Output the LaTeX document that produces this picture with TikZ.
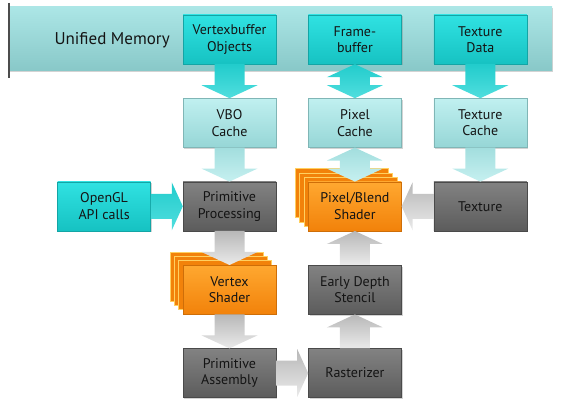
\documentclass[tikz,border=0pt]{standalone}
\usepackage{fontspec}
\setmainfont{PT Sans}
\usepackage{xcolor}
\usepackage{tikz}
\usetikzlibrary{calc,positioning,shadows}

\definecolor{memtop}{RGB}{172,230,230}
\definecolor{membot}{RGB}{136,200,200}
\definecolor{cyantop}{RGB}{48,226,226}
\definecolor{cyanbot}{RGB}{22,194,194}
\definecolor{cachetop}{RGB}{192,240,240}
\definecolor{cachebot}{RGB}{150,214,214}
\definecolor{graytop}{RGB}{130,130,130}
\definecolor{graybot}{RGB}{92,92,92}
\definecolor{orgtop}{RGB}{255,168,48}
\definecolor{orgbot}{RGB}{242,130,10}
\definecolor{orgedge}{RGB}{255,208,96}
\definecolor{txt}{RGB}{20,20,20}

\begin{document}
\begin{tikzpicture}[x=1pt, y=1pt,
    node distance=34pt and 32pt,
    every node/.style={font=\fontsize{14}{16.5}\selectfont, text=txt},
    box/.style={rectangle, minimum width=93pt, minimum height=49pt,
                align=center, inner sep=1pt, line width=0.4pt},
    shd/.style={drop shadow={shadow xshift=1.2pt, shadow yshift=-1.5pt, opacity=0.35}},
    membox/.style={rectangle, shd, minimum width=543pt, minimum height=64pt,
                   top color=memtop, bottom color=membot},
    cyanbox/.style={box, shd, top color=cyantop, bottom color=cyanbot, draw=cyanbot!85!black},
    cachebox/.style={box, shd, top color=cachetop, bottom color=cachebot, draw=cachebot!85!black},
    graybox/.style={box, shd, top color=graytop, bottom color=graybot, draw=graybot!80!black},
    shaderbox/.style={box, top color=orgtop, bottom color=orgbot, draw=orgbot!85!black,
        general shadow={shadow xshift=-12.9pt, shadow yshift=12.9pt, fill=orgbot, draw=orgedge, line width=0.8pt},
        general shadow={shadow xshift=-8.6pt, shadow yshift=8.6pt, fill=orgbot, draw=orgedge, line width=0.8pt},
        general shadow={shadow xshift=-4.3pt, shadow yshift=4.3pt, fill=orgbot, draw=orgedge, line width=0.8pt}},
    cyanarr/.style={top color={rgb,255:red,34;green,204;blue,204}, bottom color={rgb,255:red,80;green,222;blue,222}},
    lightarr/.style={top color={rgb,255:red,162;green,222;blue,222}, bottom color={rgb,255:red,198;green,240;blue,240}},
    grayarr/.style={top color={rgb,255:red,184;green,184;blue,184}, bottom color={rgb,255:red,234;green,234;blue,234}},
    vfat/.style={to path={let \p1=(\tikztostart), \p2=(\tikztotarget), \p3=($(\p2)!13pt!(\p1)$) in
        (\x1-15pt,\y1) -- (\x1+15pt,\y1) -- (\x1+15pt,\y3) -- (\x1+28pt,\y3) -- (\x2,\y2)
        -- (\x1-28pt,\y3) -- (\x1-15pt,\y3) -- cycle}},
    dfat/.style={to path={let \p1=(\tikztostart), \p2=(\tikztotarget), \p3=($(\p1)!13pt!(\p2)$),
        \p4=($(\p2)!13pt!(\p1)$) in
        (\x1,\y1) -- (\x1+28pt,\y3) -- (\x1+15pt,\y3) -- (\x1+15pt,\y4) -- (\x1+28pt,\y4) -- (\x2,\y2)
        -- (\x1-28pt,\y4) -- (\x1-15pt,\y4) -- (\x1-15pt,\y3) -- (\x1-28pt,\y3) -- cycle}},
    hfat/.style={to path={let \p1=(\tikztostart), \p2=(\tikztotarget), \p3=($(\p2)!11pt!(\p1)$) in
        (\x1,\y1-12.5pt) -- (\x1,\y1+12.5pt) -- (\x3,\y1+12.5pt) -- (\x3,\y1+24pt) -- (\x2,\y2)
        -- (\x3,\y1-24pt) -- (\x3,\y1-12.5pt) -- cycle}}
]
\useasboundingbox (0,0) rectangle (563,406);

% memory band
\node[membox] (mem) at (280.5,367) {};
\draw[line width=1.6pt, gray!60!black] ([yshift=4pt]mem.north west) -- ([yshift=-7pt]mem.south west);
\node[font=\fontsize{17}{20}\selectfont, anchor=west] (memlbl) at (51,366) {Unified Memory};

\node[cyanbox]                   (vbo)  at (229.5,366.5) {Vertexbuffer\\Objects};
\node[cyanbox, right=of vbo]     (fb)   {Frame-\\buffer};
\node[cyanbox, right=of fb]      (texd) {Texture\\Data};
\node[cachebox, below=of vbo]    (vboc) {VBO\\Cache};
\node[cachebox, below=of fb]     (pixc) {Pixel\\Cache};
\node[cachebox, below=of texd]   (texc) {Texture\\Cache};
\node[graybox, below=of vboc]    (pp)   {Primitive\\Processing};
\node[cyanbox, left=of pp]       (api)  {OpenGL\\API calls};
\node[shaderbox, below=of pixc]  (pbs)  {Pixel/Blend\\Shader};
\node[graybox, below=of texc]    (tex)  {Texture};
\node[shaderbox, below=of pp]    (vs)   {Vertex\\Shader};
\node[graybox, below=of pbs]     (eds)  {Early Depth\\Stencil};
\node[graybox, below=of vs]      (pa)   {Primitive\\Assembly};
\node[graybox, below=of eds]     (ras)  {Rasterizer};

% block arrows
\path[vfat, cyanarr]  (vbo.south)  to (vboc.north);
\path[dfat, cyanarr]  (fb.south)   to (pixc.north);
\path[vfat, cyanarr]  (texd.south) to (texc.north);
\path[vfat, lightarr] (vboc.south) to (pp.north);
\path[dfat, lightarr] (pixc.south) to (pbs.north);
\path[vfat, lightarr] (texc.south) to (tex.north);
\path[hfat, cyanarr]  (api.east)   to (pp.west);
\path[hfat, grayarr]  (tex.west)   to (pbs.east);
\path[vfat, grayarr]  (pp.south)   to (vs.north);
\path[vfat, grayarr]  (vs.south)   to (pa.north);
\path[hfat, grayarr]  (pa.east)    to (ras.west);
\path[vfat, grayarr]  (ras.north)  to (eds.south);
\path[vfat, grayarr]  (eds.north)  to (pbs.south);
\end{tikzpicture}
\end{document}
